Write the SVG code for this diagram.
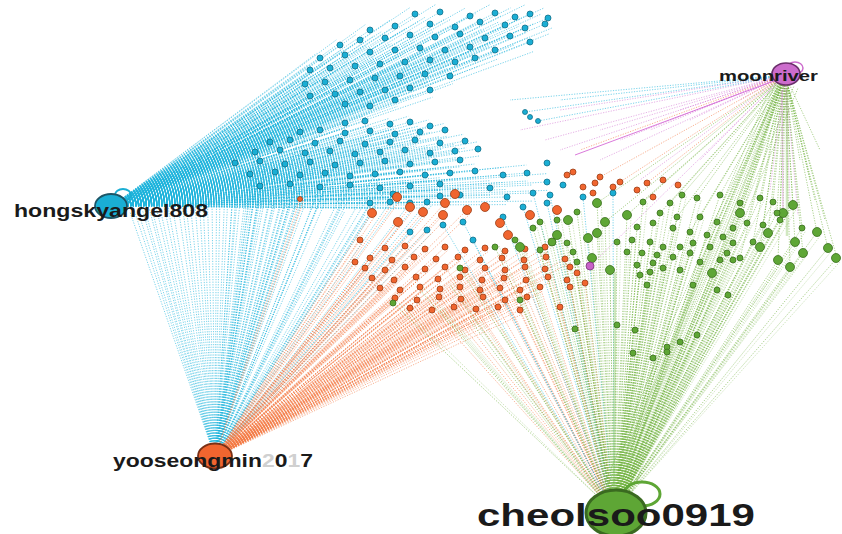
<svg xmlns="http://www.w3.org/2000/svg" xmlns:xlink="http://www.w3.org/1999/xlink" width="842" height="534" viewBox="0 0 842 534">
<style>
.e{fill:none;stroke-width:.7;stroke-dasharray:1.2 1.4;opacity:.85}
.ec{stroke:#1fb4dc}.eo{stroke:#f47a45}.eg{stroke:#6fb23c}.ep{stroke:#d57ad5}
.nc circle{fill:#1aaed4;stroke:#11708a;stroke-width:.8}
.no circle{fill:#f0652f;stroke:#9a3d15;stroke-width:.8}
.ng circle{fill:#5ea635;stroke:#3a6e1e;stroke-width:.8}
.lbl{font-family:"Liberation Sans",Arial,sans-serif;font-weight:bold;fill:#1a1a1a}
</style>
<rect width="842" height="534" fill="#fff"/>
<g id="connectors">
<path id="hu" class="e ec" d="M112 206L415 14M112 206L440 12M112 206L470 16M112 206L495 13M112 206L515 17M112 206L530 14M112 206L548 18M112 206L370 30M112 206L395 26M112 206L430 24M112 206L455 27M112 206L480 22M112 206L505 25M112 206L525 28M112 206L545 24M112 206L340 45M112 206L360 40M112 206L385 38M112 206L410 35M112 206L435 37M112 206L460 34M112 206L485 38M112 206L510 36M112 206L530 42M112 206L320 58M112 206L345 55M112 206L370 52M112 206L395 50M112 206L420 48M112 206L445 50M112 206L470 47M112 206L495 50M112 206L310 70M112 206L330 68M112 206L355 66M112 206L380 64M112 206L405 62M112 206L430 60M112 206L455 62M112 206L475 58M112 206L305 84M112 206L325 82M112 206L350 80M112 206L375 78M112 206L400 76M112 206L425 74M112 206L450 76M112 206L310 96M112 206L335 94M112 206L360 92M112 206L385 90M112 206L410 88M112 206L430 90M112 206L345 104M112 206L370 106M112 206L395 100M112 206L290 112M112 206L275 120M112 206L300 108"/>
<path id="hm" class="e ec" d="M112 206L345 123M112 206L365 121M112 206L390 124M112 206L410 122M112 206L430 126M112 206L300 132M112 206L320 130M112 206L345 133M112 206L370 131M112 206L395 134M112 206L420 132M112 206L445 130M112 206L270 142M112 206L290 140M112 206L315 143M112 206L340 141M112 206L365 144M112 206L390 142M112 206L415 140M112 206L440 143M112 206L465 141M112 206L255 152M112 206L280 150M112 206L305 153M112 206L330 151M112 206L355 154M112 206L380 152M112 206L405 150M112 206L430 153M112 206L455 151M112 206L478 149M112 206L235 163M112 206L260 161M112 206L285 164M112 206L310 162M112 206L335 165M112 206L360 163M112 206L385 161M112 206L410 164M112 206L435 162M112 206L460 160M112 206L250 174M112 206L275 172M112 206L300 175M112 206L325 173M112 206L350 176M112 206L375 174M112 206L400 172M112 206L425 175M112 206L450 173M112 206L475 171M112 206L260 186M112 206L290 184M112 206L320 187M112 206L350 185M112 206L380 188M112 206L410 186M112 206L440 184M112 206L503 175M112 206L527 173M112 206L547 182M112 206L490 188M112 206L507 197M112 206L533 193M112 206L370 203M112 206L390 202M112 206L410 203M112 206L427 202M112 206L460 195M112 206L440 196M112 206L393 194"/>
<use xlink:href="#hu" href="#hu" transform="rotate(1.3 112 206)"/>
<use xlink:href="#hu" href="#hu" transform="rotate(-1.3 112 206)"/>
<use xlink:href="#hm" href="#hm" transform="rotate(1.1 112 206)"/>
<use xlink:href="#hm" href="#hm" transform="rotate(-1.1 112 206)"/>
<path id="yc" class="e ec" d="M215 457L130 212M215 457L145 210M215 457L160 208M215 457L178 206M215 457L195 204M215 457L212 200M215 457L235 163M215 457L250 174M215 457L260 186M215 457L275 172M215 457L290 184M215 457L300 175M215 457L320 187M215 457L350 185M215 457L380 188M215 457L370 203M215 457L390 202M215 457L410 203M215 457L427 202M215 457L410 232M215 457L427 230M215 457L255 152M215 457L270 142M215 457L300 132M215 457L305 153M215 457L325 173M215 457L260 161M215 457L285 164M215 457L310 162M215 457L335 165M215 457L350 176M215 457L375 174M215 457L228 195M215 457L245 198M215 457L365 215M215 457L340 210M215 457L138 211M215 457L152 209M215 457L168 207M215 457L186 205M215 457L203 202M215 457L220 198M215 457L236 196M215 457L254 198M215 457L270 200M215 457L285 202M215 457L300 204"/>
<use xlink:href="#yc" href="#yc" transform="rotate(1 215 457)"/>
<path id="yo" class="e eo" d="M215 457L385 248M215 457L405 246M215 457L425 249M215 457L445 247M215 457L465 250M215 457L485 248M215 457L505 251M215 457L525 249M215 457L545 247M215 457L370 258M215 457L392 260M215 457L414 257M215 457L436 259M215 457L458 257M215 457L480 260M215 457L502 258M215 457L524 260M215 457L546 257M215 457L565 259M215 457L365 268M215 457L385 270M215 457L405 267M215 457L425 269M215 457L445 267M215 457L465 270M215 457L485 268M215 457L505 270M215 457L525 267M215 457L545 269M215 457L372 278M215 457L394 280M215 457L416 277M215 457L438 279M215 457L460 277M215 457L482 280M215 457L504 278M215 457L526 280M215 457L548 277M215 457L380 288M215 457L400 290M215 457L420 287M215 457L440 289M215 457L460 287M215 457L480 290M215 457L500 288M215 457L520 290M215 457L540 287M215 457L395 298M215 457L417 300M215 457L439 297M215 457L461 299M215 457L483 297M215 457L505 300M215 457L527 297M215 457L410 308M215 457L432 310M215 457L454 307M215 457L476 309M215 457L498 307M215 457L520 310M215 457L397 197M215 457L410 207M215 457L423 212M215 457L445 203M215 457L372 213M215 457L398 222M215 457L443 215M215 457L467 210M215 457L355 262M215 457L360 240M215 457L300 199"/>
<use xlink:href="#yo" href="#yo" transform="rotate(.8 215 457)"/>
<path class="e eo" d="M614 512L445 267M614 512L465 270M614 512L485 268M614 512L505 270M614 512L525 267M614 512L482 280M614 512L504 278M614 512L526 280M614 512L548 277M614 512L500 288M614 512L520 290M614 512L540 287M614 512L505 300M614 512L527 297M614 512L520 310M614 512L476 309M614 512L454 307M614 512L432 310M614 512L461 299M614 512L439 297M614 512L545 247M614 512L565 259M614 512L570 287M614 512L560 307M614 512L577 273M614 512L585 283"/>
<path class="e ec" d="M614 512L473 240M614 512L443 225M614 512L463 222M614 512L503 217M614 512L523 207M614 512L547 203M614 512L583 197M614 512L613 193M614 512L550 195M614 512L533 193"/>
<path id="cg" class="e eg" d="M614 512L597 203M614 512L627 215M614 512L605 222M614 512L568 220M614 512L597 233M614 512L588 238M614 512L592 258M614 512L610 270M614 512L712 273M614 512L740 213M614 512L793 205M614 512L783 213M614 512L768 233M614 512L760 247M614 512L795 242M614 512L803 253M614 512L778 260M614 512L790 267M614 512L817 232M614 512L828 248M614 512L837 258M614 512L520 247M614 512L557 235M614 512L552 242M614 512L643 202M614 512L670 203M614 512L682 195M614 512L697 198M614 512L720 195M614 512L740 203M614 512L760 198M614 512L773 202M614 512L777 213M614 512L660 213M614 512L677 217M614 512L700 217M614 512L717 222M614 512L733 228M614 512L747 223M614 512L637 227M614 512L653 223M614 512L673 228M614 512L690 232M614 512L707 235M614 512L723 237M614 512L733 243M614 512L617 242M614 512L632 240M614 512L650 242M614 512L663 247M614 512L680 247M614 512L693 243M614 512L710 247M614 512L727 253M614 512L740 258M614 512L627 252M614 512L642 253M614 512L657 255M614 512L673 257M614 512L690 253M614 512L700 262M614 512L720 260M614 512L733 260M614 512L637 265M614 512L653 263M614 512L663 268M614 512L680 270M614 512L650 272M614 512L640 275M614 512L763 225M614 512L753 242M614 512L802 228M614 512L780 220M614 512L573 252M614 512L577 262M614 512L567 243M614 512L577 212M614 512L647 285M614 512L693 285M614 512L717 290M614 512L728 295M614 512L617 325M614 512L635 330M614 512L697 335M614 512L680 342M614 512L667 347M614 512L667 352M614 512L633 353M614 512L653 358M614 512L575 329M614 512L393 303M614 512L460 268M614 512L557 220M614 512L533 228M614 512L540 250M614 512L495 247M614 512L515 240M614 512L540 222M614 512L520 300M614 512L420 290M614 512L440 310M614 512L470 320M614 512L500 330M614 512L450 285"/>
<use xlink:href="#cg" href="#cg" transform="rotate(.8 614 512)" opacity=".6"/>
<path class="e eg" d="M614 500L785 75M610 490L780 80M618 490L786 82M622 492L790 84M605 492L776 82M626 494L794 86M600 495L772 84M630 496L798 88M612 496L782 78M608 498L778 86"/>
<path class="e eg" d="M785 75L643 202M785 75L670 203M785 75L682 195M785 75L697 198M785 75L720 195M785 75L740 203M785 75L760 198M785 75L773 202M785 75L777 213M785 75L660 213M785 75L677 217M785 75L700 217M785 75L717 222M785 75L733 228M785 75L747 223M785 75L690 232M785 75L707 235M785 75L723 237M785 75L733 243M785 75L710 247M785 75L727 253M785 75L740 258M785 75L763 225M785 75L753 242M785 75L802 228M785 75L780 220M785 75L740 213M785 75L793 205M785 75L783 213M785 75L768 233M785 75L760 247M785 75L795 242M785 75L803 253M785 75L778 260M785 75L790 267M785 75L817 232M785 75L828 248M785 75L837 258M785 75L712 273M785 75L627 215M785 75L597 203M785 75L605 222M785 75L720 260M785 75L700 262M785 75L815 200M785 75L825 220M785 75L810 180M785 75L800 160M785 75L820 150"/>
<path class="e ep" d="M785 75L590 266M785 75L520 130M785 75L545 140M785 75L560 150M785 75L600 160M785 75L620 140M785 75L650 130M785 75L690 120M785 75L700 160M785 75L640 180M785 75L680 110M785 75L740 100M785 75L600 130M785 75L560 110M785 75L790 200M785 75L798 215M785 75L770 190"/>
<path class="e ec" d="M785 75L525 112M785 75L538 121M785 75L510 100M785 75L560 100"/>
<path class="e eo" d="M785 75L600 177M785 75L620 182M785 75L647 183M785 75L580 150"/>
<path d="M782 78L575 155" fill="none" stroke="#cc44cc" stroke-width=".9" opacity=".8"/>
<path d="M614 488L615 272M787 88L787 236" fill="none" stroke="#7cbd4e" stroke-width="2.5" opacity=".35"/>
<path d="M782 90L783 210" fill="none" stroke="#d98ad9" stroke-width="1.5" opacity=".4"/>
</g>
<g id="nodes-cyan" class="nc">
<circle cx="415" cy="14" r="3"/><circle cx="440" cy="12" r="3"/><circle cx="470" cy="16" r="3"/><circle cx="495" cy="13" r="3"/><circle cx="515" cy="17" r="3"/><circle cx="530" cy="14" r="3"/><circle cx="548" cy="18" r="3"/>
<circle cx="370" cy="30" r="3"/><circle cx="395" cy="26" r="3"/><circle cx="430" cy="24" r="3"/><circle cx="455" cy="27" r="3"/><circle cx="480" cy="22" r="3"/><circle cx="505" cy="25" r="3"/><circle cx="525" cy="28" r="3"/><circle cx="545" cy="24" r="3"/>
<circle cx="340" cy="45" r="3"/><circle cx="360" cy="40" r="3"/><circle cx="385" cy="38" r="3"/><circle cx="410" cy="35" r="3"/><circle cx="435" cy="37" r="3"/><circle cx="460" cy="34" r="3"/><circle cx="485" cy="38" r="3"/><circle cx="510" cy="36" r="3"/><circle cx="530" cy="42" r="3"/>
<circle cx="320" cy="58" r="3"/><circle cx="345" cy="55" r="3"/><circle cx="370" cy="52" r="3"/><circle cx="395" cy="50" r="3"/><circle cx="420" cy="48" r="3"/><circle cx="445" cy="50" r="3"/><circle cx="470" cy="47" r="3"/><circle cx="495" cy="50" r="3"/>
<circle cx="310" cy="70" r="3"/><circle cx="330" cy="68" r="3"/><circle cx="355" cy="66" r="3"/><circle cx="380" cy="64" r="3"/><circle cx="405" cy="62" r="3"/><circle cx="430" cy="60" r="3"/><circle cx="455" cy="62" r="3"/><circle cx="475" cy="58" r="3"/>
<circle cx="305" cy="84" r="3"/><circle cx="325" cy="82" r="3"/><circle cx="350" cy="80" r="3"/><circle cx="375" cy="78" r="3"/><circle cx="400" cy="76" r="3"/><circle cx="425" cy="74" r="3"/><circle cx="450" cy="76" r="3"/>
<circle cx="310" cy="96" r="3"/><circle cx="335" cy="94" r="3"/><circle cx="360" cy="92" r="3"/><circle cx="385" cy="90" r="3"/><circle cx="410" cy="88" r="3"/><circle cx="430" cy="90" r="3"/>
<circle cx="345" cy="104" r="3"/><circle cx="370" cy="106" r="3"/><circle cx="395" cy="100" r="3"/>
<circle cx="525" cy="112" r="2.5"/><circle cx="530" cy="117" r="2.5"/><circle cx="538" cy="121" r="2.5"/>
<circle cx="345" cy="123" r="3"/><circle cx="365" cy="121" r="3"/><circle cx="390" cy="124" r="3"/><circle cx="410" cy="122" r="3"/><circle cx="430" cy="126" r="3"/>
<circle cx="300" cy="132" r="3"/><circle cx="320" cy="130" r="3"/><circle cx="345" cy="133" r="3"/><circle cx="370" cy="131" r="3"/><circle cx="395" cy="134" r="3"/><circle cx="420" cy="132" r="3"/><circle cx="445" cy="130" r="3"/>
<circle cx="270" cy="142" r="3"/><circle cx="290" cy="140" r="3"/><circle cx="315" cy="143" r="3"/><circle cx="340" cy="141" r="3"/><circle cx="365" cy="144" r="3"/><circle cx="390" cy="142" r="3"/><circle cx="415" cy="140" r="3"/><circle cx="440" cy="143" r="3"/><circle cx="465" cy="141" r="3"/>
<circle cx="255" cy="152" r="3"/><circle cx="280" cy="150" r="3"/><circle cx="305" cy="153" r="3"/><circle cx="330" cy="151" r="3"/><circle cx="355" cy="154" r="3"/><circle cx="380" cy="152" r="3"/><circle cx="405" cy="150" r="3"/><circle cx="430" cy="153" r="3"/><circle cx="455" cy="151" r="3"/><circle cx="478" cy="149" r="3"/>
<circle cx="235" cy="163" r="3"/><circle cx="260" cy="161" r="3"/><circle cx="285" cy="164" r="3"/><circle cx="310" cy="162" r="3"/><circle cx="335" cy="165" r="3"/><circle cx="360" cy="163" r="3"/><circle cx="385" cy="161" r="3"/><circle cx="410" cy="164" r="3"/><circle cx="435" cy="162" r="3"/><circle cx="460" cy="160" r="3"/>
<circle cx="250" cy="174" r="3"/><circle cx="275" cy="172" r="3"/><circle cx="300" cy="175" r="3"/><circle cx="325" cy="173" r="3"/><circle cx="350" cy="176" r="3"/><circle cx="375" cy="174" r="3"/><circle cx="400" cy="172" r="3"/><circle cx="425" cy="175" r="3"/><circle cx="450" cy="173" r="3"/><circle cx="475" cy="171" r="3"/>
<circle cx="260" cy="186" r="3"/><circle cx="290" cy="184" r="3"/><circle cx="320" cy="187" r="3"/><circle cx="350" cy="185" r="3"/><circle cx="380" cy="188" r="3"/><circle cx="410" cy="186" r="3"/><circle cx="440" cy="184" r="3"/>
<circle cx="503" cy="175" r="3"/><circle cx="527" cy="173" r="3"/><circle cx="547" cy="182" r="3"/><circle cx="547" cy="163" r="3"/><circle cx="490" cy="188" r="3"/><circle cx="507" cy="197" r="3"/><circle cx="533" cy="193" r="3"/><circle cx="550" cy="195" r="3"/><circle cx="563" cy="185" r="3"/><circle cx="370" cy="203" r="3"/><circle cx="390" cy="202" r="3"/><circle cx="410" cy="203" r="3"/><circle cx="427" cy="202" r="3"/><circle cx="443" cy="225" r="3"/><circle cx="463" cy="222" r="3"/><circle cx="427" cy="230" r="3"/><circle cx="410" cy="232" r="3"/><circle cx="473" cy="240" r="3"/><circle cx="503" cy="217" r="3"/><circle cx="523" cy="207" r="3"/><circle cx="547" cy="203" r="3"/><circle cx="583" cy="197" r="3"/><circle cx="613" cy="193" r="3"/><circle cx="460" cy="195" r="3"/><circle cx="440" cy="196" r="3"/><circle cx="393" cy="194" r="3"/>
</g>
<g id="nodes-orange" class="no">
<circle cx="385" cy="248" r="3"/><circle cx="405" cy="246" r="3"/><circle cx="425" cy="249" r="3"/><circle cx="445" cy="247" r="3"/><circle cx="465" cy="250" r="3"/><circle cx="485" cy="248" r="3"/><circle cx="505" cy="251" r="3"/><circle cx="525" cy="249" r="3"/><circle cx="545" cy="247" r="3"/>
<circle cx="370" cy="258" r="3"/><circle cx="392" cy="260" r="3"/><circle cx="414" cy="257" r="3"/><circle cx="436" cy="259" r="3"/><circle cx="458" cy="257" r="3"/><circle cx="480" cy="260" r="3"/><circle cx="502" cy="258" r="3"/><circle cx="524" cy="260" r="3"/><circle cx="546" cy="257" r="3"/><circle cx="565" cy="259" r="3"/>
<circle cx="365" cy="268" r="3"/><circle cx="385" cy="270" r="3"/><circle cx="405" cy="267" r="3"/><circle cx="425" cy="269" r="3"/><circle cx="445" cy="267" r="3"/><circle cx="465" cy="270" r="3"/><circle cx="485" cy="268" r="3"/><circle cx="505" cy="270" r="3"/><circle cx="525" cy="267" r="3"/><circle cx="545" cy="269" r="3"/>
<circle cx="372" cy="278" r="3"/><circle cx="394" cy="280" r="3"/><circle cx="416" cy="277" r="3"/><circle cx="438" cy="279" r="3"/><circle cx="460" cy="277" r="3"/><circle cx="482" cy="280" r="3"/><circle cx="504" cy="278" r="3"/><circle cx="526" cy="280" r="3"/><circle cx="548" cy="277" r="3"/>
<circle cx="380" cy="288" r="3"/><circle cx="400" cy="290" r="3"/><circle cx="420" cy="287" r="3"/><circle cx="440" cy="289" r="3"/><circle cx="460" cy="287" r="3"/><circle cx="480" cy="290" r="3"/><circle cx="500" cy="288" r="3"/><circle cx="520" cy="290" r="3"/><circle cx="540" cy="287" r="3"/>
<circle cx="395" cy="298" r="3"/><circle cx="417" cy="300" r="3"/><circle cx="439" cy="297" r="3"/><circle cx="461" cy="299" r="3"/><circle cx="483" cy="297" r="3"/><circle cx="505" cy="300" r="3"/><circle cx="527" cy="297" r="3"/>
<circle cx="410" cy="308" r="3"/><circle cx="432" cy="310" r="3"/><circle cx="454" cy="307" r="3"/><circle cx="476" cy="309" r="3"/><circle cx="498" cy="307" r="3"/><circle cx="520" cy="310" r="3"/>
<circle cx="355" cy="262" r="3"/><circle cx="360" cy="240" r="3"/><circle cx="300" cy="199" r="2.5"/>
<circle cx="397" cy="197" r="4.5"/><circle cx="410" cy="207" r="4.5"/><circle cx="423" cy="212" r="4.5"/><circle cx="445" cy="203" r="4.5"/><circle cx="455" cy="194" r="4.5"/><circle cx="372" cy="213" r="4.5"/><circle cx="398" cy="222" r="4.5"/><circle cx="443" cy="215" r="4.5"/><circle cx="467" cy="210" r="4.5"/><circle cx="485" cy="207" r="4.5"/><circle cx="500" cy="223" r="4.5"/><circle cx="508" cy="235" r="4.5"/><circle cx="530" cy="215" r="4.5"/><circle cx="557" cy="210" r="4.5"/>
<circle cx="567" cy="175" r="3"/><circle cx="573" cy="172" r="3"/><circle cx="600" cy="177" r="3"/><circle cx="595" cy="183" r="3"/><circle cx="613" cy="187" r="3"/><circle cx="620" cy="182" r="3"/><circle cx="637" cy="190" r="3"/><circle cx="647" cy="183" r="3"/><circle cx="583" cy="187" r="3"/><circle cx="593" cy="193" r="3"/><circle cx="663" cy="180" r="3"/><circle cx="678" cy="185" r="3"/><circle cx="653" cy="197" r="3"/><circle cx="570" cy="267" r="3"/><circle cx="577" cy="273" r="3"/><circle cx="567" cy="280" r="3"/><circle cx="570" cy="287" r="3"/><circle cx="585" cy="283" r="3"/><circle cx="560" cy="307" r="3"/>
</g>
<g id="nodes-green" class="ng">
<circle cx="597" cy="203" r="4.5"/><circle cx="627" cy="215" r="4.5"/><circle cx="605" cy="222" r="4.5"/><circle cx="568" cy="220" r="4.5"/><circle cx="597" cy="233" r="4.5"/><circle cx="588" cy="238" r="4.5"/><circle cx="592" cy="258" r="4.5"/><circle cx="610" cy="270" r="4.5"/><circle cx="712" cy="273" r="4.5"/><circle cx="740" cy="213" r="4.5"/><circle cx="793" cy="205" r="4.5"/><circle cx="783" cy="213" r="4.5"/><circle cx="768" cy="233" r="4.5"/><circle cx="760" cy="247" r="4.5"/><circle cx="795" cy="242" r="4.5"/><circle cx="803" cy="253" r="4.5"/><circle cx="778" cy="260" r="4.5"/><circle cx="790" cy="267" r="4.5"/><circle cx="817" cy="232" r="4.5"/><circle cx="828" cy="248" r="4.5"/><circle cx="836" cy="258" r="4.5"/><circle cx="520" cy="247" r="4.5"/><circle cx="557" cy="235" r="4.5"/><circle cx="552" cy="242" r="4"/>
<circle cx="643" cy="202" r="3"/><circle cx="670" cy="203" r="3"/><circle cx="682" cy="195" r="3"/><circle cx="697" cy="198" r="3"/><circle cx="720" cy="195" r="3"/><circle cx="740" cy="203" r="3"/><circle cx="760" cy="198" r="3"/><circle cx="773" cy="202" r="3"/><circle cx="777" cy="213" r="3"/><circle cx="660" cy="213" r="3"/><circle cx="677" cy="217" r="3"/><circle cx="700" cy="217" r="3"/><circle cx="717" cy="222" r="3"/><circle cx="733" cy="228" r="3"/><circle cx="747" cy="223" r="3"/><circle cx="637" cy="227" r="3"/><circle cx="653" cy="223" r="3"/><circle cx="673" cy="228" r="3"/><circle cx="690" cy="232" r="3"/><circle cx="707" cy="235" r="3"/><circle cx="723" cy="237" r="3"/><circle cx="733" cy="243" r="3"/><circle cx="617" cy="242" r="3"/><circle cx="632" cy="240" r="3"/><circle cx="650" cy="242" r="3"/><circle cx="663" cy="247" r="3"/><circle cx="680" cy="247" r="3"/><circle cx="693" cy="243" r="3"/><circle cx="710" cy="247" r="3"/><circle cx="727" cy="253" r="3"/><circle cx="740" cy="258" r="3"/><circle cx="627" cy="252" r="3"/><circle cx="642" cy="253" r="3"/><circle cx="657" cy="255" r="3"/><circle cx="673" cy="257" r="3"/><circle cx="690" cy="253" r="3"/><circle cx="700" cy="262" r="3"/><circle cx="720" cy="260" r="3"/><circle cx="733" cy="260" r="3"/><circle cx="637" cy="265" r="3"/><circle cx="653" cy="263" r="3"/><circle cx="663" cy="268" r="3"/><circle cx="680" cy="270" r="3"/><circle cx="650" cy="272" r="3"/><circle cx="640" cy="275" r="3"/><circle cx="763" cy="225" r="3"/><circle cx="753" cy="242" r="3"/><circle cx="802" cy="228" r="3"/><circle cx="780" cy="220" r="3"/><circle cx="573" cy="252" r="3"/><circle cx="577" cy="262" r="3"/><circle cx="567" cy="243" r="3"/><circle cx="577" cy="212" r="3"/><circle cx="647" cy="285" r="3"/><circle cx="693" cy="285" r="3"/><circle cx="717" cy="290" r="3"/><circle cx="728" cy="295" r="3"/><circle cx="617" cy="325" r="3"/><circle cx="635" cy="330" r="3"/><circle cx="697" cy="335" r="3"/><circle cx="680" cy="342" r="3"/><circle cx="667" cy="347" r="3"/><circle cx="667" cy="352" r="3"/><circle cx="633" cy="353" r="3"/><circle cx="653" cy="358" r="3"/><circle cx="575" cy="329" r="3"/><circle cx="393" cy="303" r="3"/><circle cx="460" cy="268" r="3"/><circle cx="557" cy="220" r="3"/><circle cx="533" cy="228" r="3"/><circle cx="540" cy="250" r="3"/><circle cx="495" cy="247" r="3"/><circle cx="515" cy="240" r="3"/><circle cx="540" cy="222" r="3"/><circle cx="520" cy="300" r="3"/>
</g>
<g id="node-purple-small"><circle cx="590" cy="266" r="4" fill="#c862c8" stroke="#7a347a" stroke-width=".8"/></g>
<g id="node-hongskyangel808">
<ellipse cx="123" cy="195" rx="8" ry="6" fill="none" stroke="#1aaed4" stroke-width="2"/>
<ellipse cx="111" cy="206" rx="16" ry="12" fill="#1aaed4" stroke="#1d5566" stroke-width="1.8"/>
<text class="lbl" x="14" y="217" font-size="19" textLength="194" lengthAdjust="spacingAndGlyphs">hongskyangel808</text>
</g>
<g id="node-yooseongmin2017">
<ellipse cx="215" cy="456" rx="17" ry="12.5" fill="#f0652f" stroke="#7a3015" stroke-width="1.8"/>
<text class="lbl" x="113" y="467" font-size="18" textLength="200" lengthAdjust="spacingAndGlyphs">yooseongmin<tspan fill="#d0d0d0">2</tspan>0<tspan fill="#d0d0d0">1</tspan>7</text>
</g>
<g id="node-cheolsoo0919">
<ellipse cx="642" cy="494" rx="18" ry="12" fill="none" stroke="#5ea635" stroke-width="3"/>
<ellipse cx="616" cy="513" rx="30" ry="23" fill="#5ea635" stroke="#3a6a20" stroke-width="3"/>
<text class="lbl" x="477" y="526" font-size="31" textLength="278" lengthAdjust="spacingAndGlyphs">cheolsoo0919</text>
</g>
<g id="node-moonriver">
<ellipse cx="795" cy="68" rx="8" ry="6" fill="none" stroke="#cc6ccc" stroke-width="1.5"/>
<ellipse cx="786" cy="74" rx="14" ry="11" fill="#cc6ccc" stroke="#6a2f6a" stroke-width="1.6"/>
<text class="lbl" x="719" y="81" font-size="15" textLength="99" lengthAdjust="spacingAndGlyphs">moonriver</text>
</g>
</svg>
